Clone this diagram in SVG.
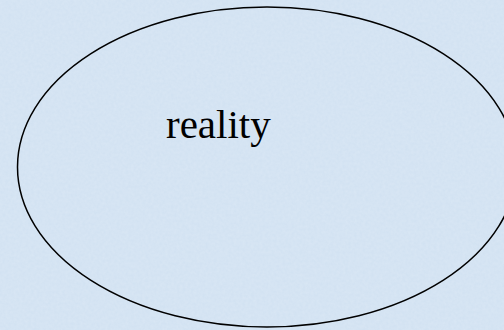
<svg xmlns="http://www.w3.org/2000/svg" width="504" height="330" viewBox="0 0 504 330">
<style>
.bg{fill:#d2e2f2}
.node{fill:none;stroke:#000;stroke-width:1.5}
.label{font-family:"Liberation Serif","Times New Roman",serif;font-size:41px;fill:#000}
</style>
<defs>
<filter id="tex" x="0" y="0" width="100%" height="100%">
<feTurbulence type="fractalNoise" baseFrequency="0.35" numOctaves="2" seed="3" result="n"/>
<feColorMatrix in="n" type="matrix" values="0 0 0 0 1  0 0 0 0 1  0 0 0 0 1  0 0 0 0.35 -0.05"/>
</filter>
</defs>
<rect class="bg" x="0" y="0" width="504" height="330"/>
<rect x="0" y="0" width="504" height="330" filter="url(#tex)" opacity="0.5"/>
<g id="reality">
<ellipse class="node" cx="267" cy="167" rx="249.5" ry="160"/>
<text class="label" x="166" y="138">reality</text>
</g>
<g id="connectors"/>
</svg>
